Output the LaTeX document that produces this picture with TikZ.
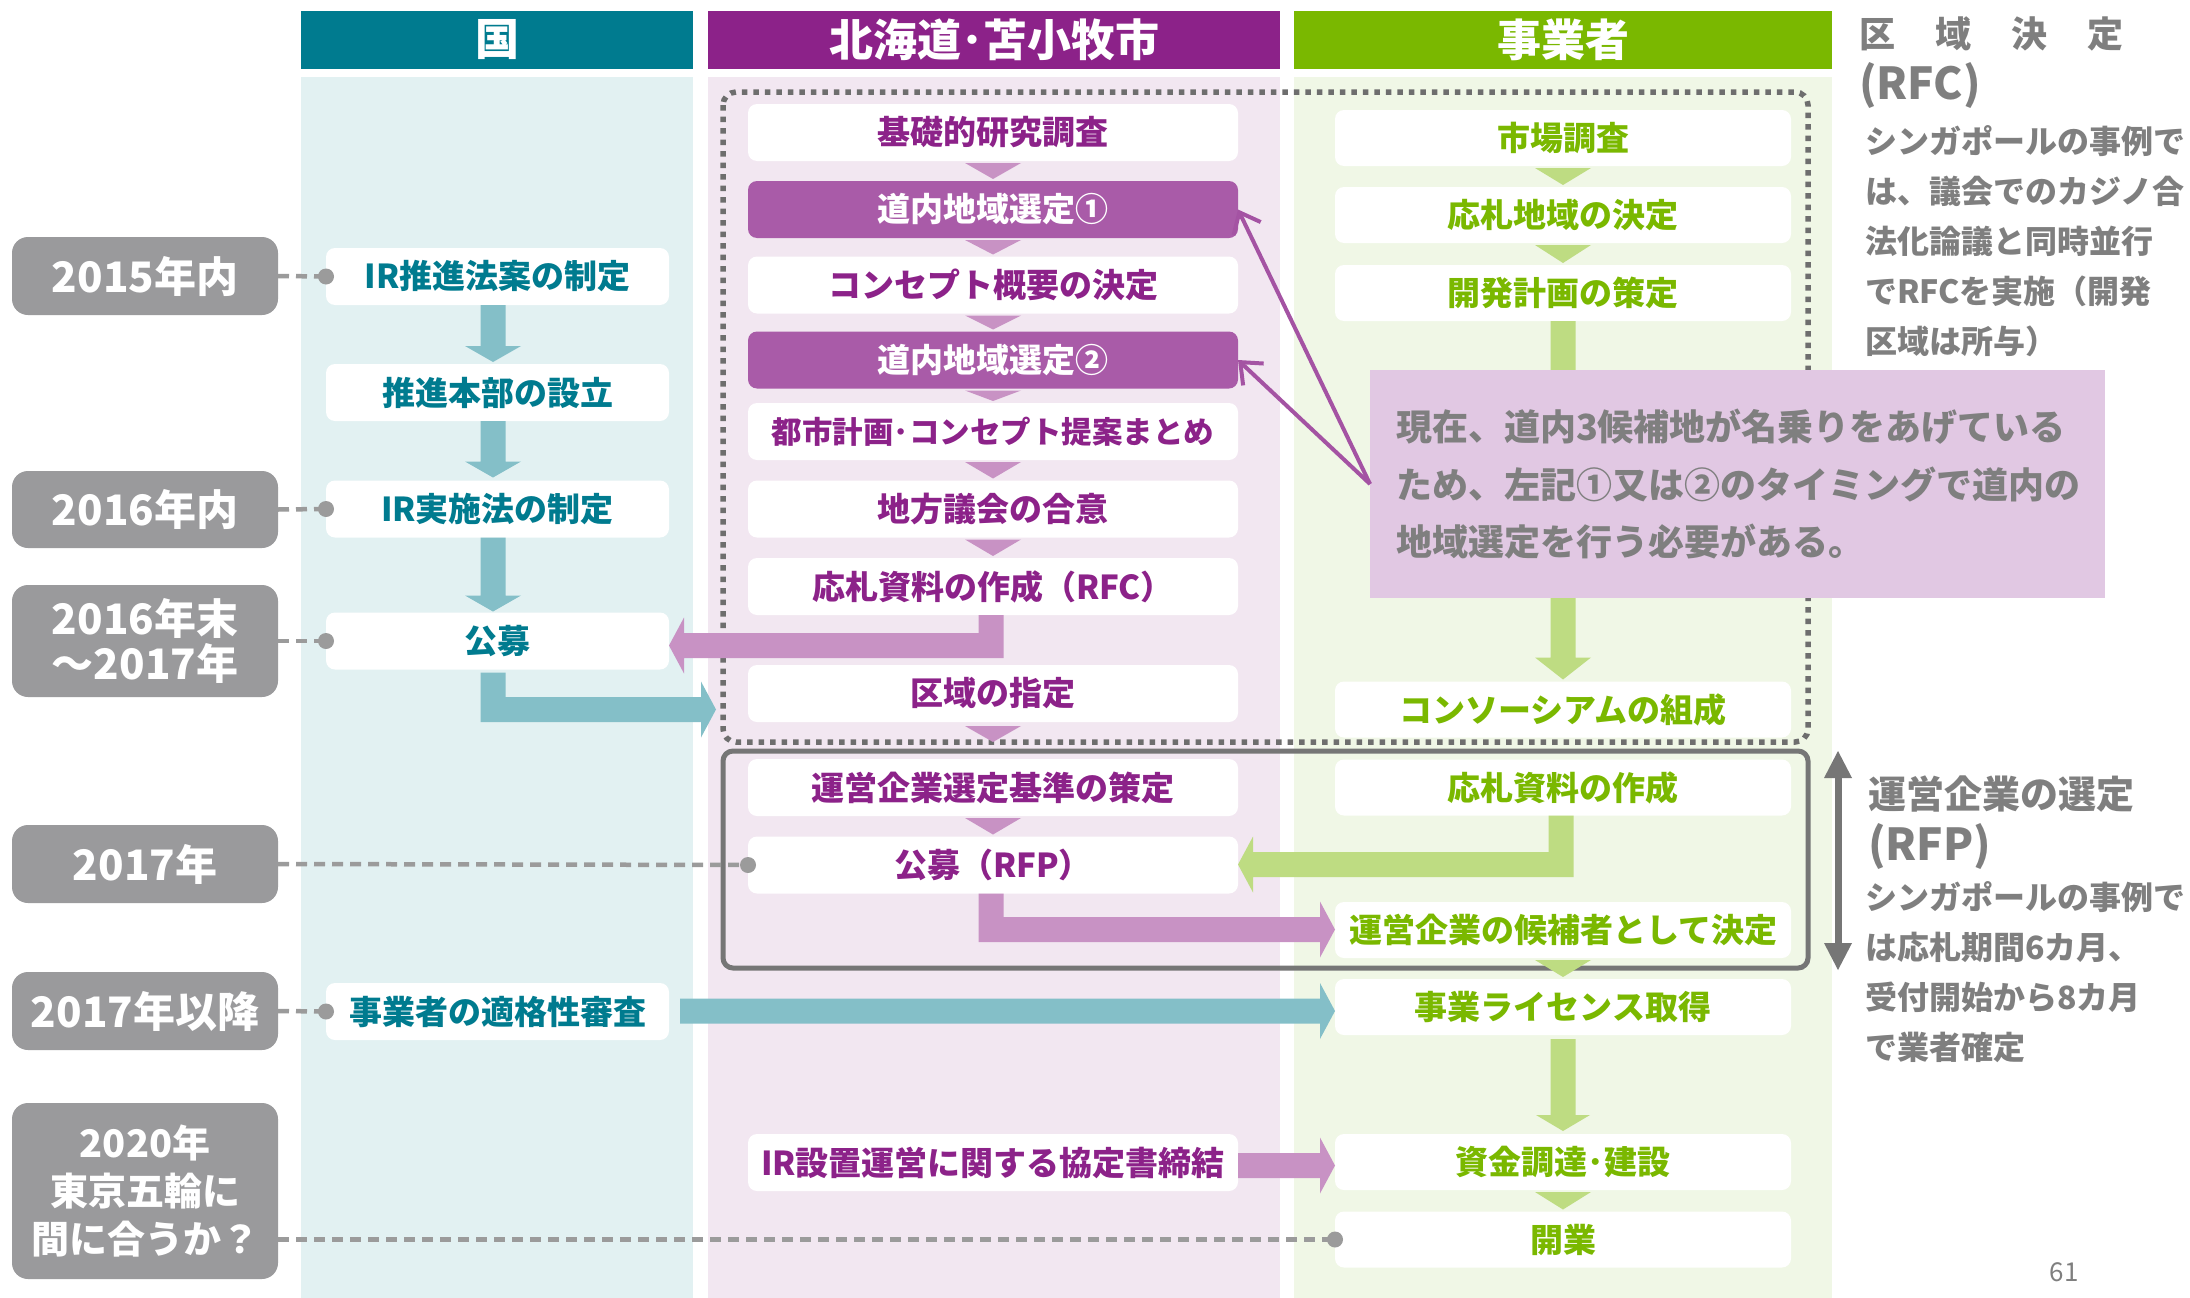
\documentclass[tikz,border=0pt]{standalone}
\usepackage{fontspec}
\setmainfont{Noto Sans CJK JP}
\usetikzlibrary{arrows.meta,calc}
\definecolor{kTeal}{RGB}{0,123,143}
\definecolor{kArrow}{RGB}{132,191,200}
\definecolor{kBg}{RGB}{226,241,242}
\definecolor{hPurple}{RGB}{140,34,137}
\definecolor{hSel}{RGB}{169,91,168}
\definecolor{hArrow}{RGB}{200,146,196}
\definecolor{hBg}{RGB}{242,231,241}
\definecolor{callBg}{RGB}{225,200,227}
\definecolor{callLine}{RGB}{164,83,163}
\definecolor{jGreen}{RGB}{122,184,0}
\definecolor{jArrow}{RGB}{190,220,130}
\definecolor{jBg}{RGB}{240,247,230}
\definecolor{yearGray}{RGB}{154,154,156}
\definecolor{txtGray}{RGB}{127,127,127}
\definecolor{frameGray}{RGB}{118,118,118}
\definecolor{dotGray}{RGB}{110,110,110}
\definecolor{dashGray}{RGB}{155,155,155}
% block arrows drawn as filled outlines
\newcommand\mychev[3]{\fill[#1] ($(#2.south)+(-28,2)$) -- ($(#2.south)+(28,2)$) -- ($(#3.north)+(0,-2)$) -- cycle;}
\newcommand\downarr[5]{\fill[#1] let \p1=(#2), \p2=(#3) in (\x2-12.5pt,\y1) -- (\x2+12.5pt,\y1) -- (\x2+12.5pt,\y2+#5) -- (\x2+#4,\y2+#5) -- (\x2,\y2) -- (\x2-#4,\y2+#5) -- (\x2-12.5pt,\y2+#5) -- cycle;}
\newcommand\rightarr[3]{\fill[#1] let \p1=(#2), \p2=(#3) in (\x1,\y2+12.5pt) -- (\x2-15pt,\y2+12.5pt) -- (\x2-15pt,\y2+28pt) -- (\x2,\y2) -- (\x2-15pt,\y2-28pt) -- (\x2-15pt,\y2-12.5pt) -- (\x1,\y2-12.5pt) -- cycle;}
\newcommand\elbowright[3]{\fill[#1] let \p1=(#2), \p2=(#3) in (\x1-12.5pt,\y1) -- (\x1+12.5pt,\y1) -- (\x1+12.5pt,\y2+12.5pt) -- (\x2-15pt,\y2+12.5pt) -- (\x2-15pt,\y2+28pt) -- (\x2,\y2) -- (\x2-15pt,\y2-28pt) -- (\x2-15pt,\y2-12.5pt) -- (\x1-12.5pt,\y2-12.5pt) -- cycle;}
\newcommand\elbowleft[3]{\fill[#1] let \p1=(#2), \p2=(#3) in (\x1+12.5pt,\y1) -- (\x1-12.5pt,\y1) -- (\x1-12.5pt,\y2+12.5pt) -- (\x2+15pt,\y2+12.5pt) -- (\x2+15pt,\y2+28pt) -- (\x2,\y2) -- (\x2+15pt,\y2-28pt) -- (\x2+15pt,\y2-12.5pt) -- (\x1+12.5pt,\y2-12.5pt) -- cycle;}
\begin{document}
\begin{tikzpicture}[x=1pt,y=-1pt,
  every node/.style={inner sep=0pt, outer sep=0pt},
  box/.style={rectangle, rounded corners=9pt, fill=white, font=\bfseries\fontsize{33}{40}\selectfont},
  kbox/.style={box, minimum width=343pt, minimum height=57pt, text=kTeal},
  hbox/.style={box, minimum width=490pt, minimum height=57pt, text=hPurple},
  hsel/.style={hbox, fill=hSel, text=white},
  jbox/.style={box, minimum width=456pt, minimum height=56pt, text=jGreen},
  ybox/.style={rectangle, rounded corners=16pt, fill=yearGray, text=white, minimum width=266pt, align=center, font=\bfseries\fontsize{42}{45}\selectfont},
  header/.style={rectangle, minimum height=58pt, text=white, font=\bfseries\fontsize{44}{50}\selectfont},
  dashline/.style={draw=dashGray, line width=4.5pt, dash pattern=on 11pt off 7pt},
  note/.style={text=txtGray, font=\bfseries\fontsize{32}{50}\selectfont, align=left, anchor=west},
  callline/.style={draw=callLine, line width=4pt, -{Straight Barb[length=18pt,width=30pt]}}
]
\useasboundingbox (0,0) rectangle (2190,1298);
\fill[white] (0,0) rectangle (2190,1298);
% column backgrounds
\fill[kBg] (301,77) rectangle (693,1298);
\fill[hBg] (708,77) rectangle (1280,1298);
\fill[jBg] (1294,77) rectangle (1832,1298);
% headers
\node[header, fill=kTeal, minimum width=392pt] (hdK) at (497,40) {国};
\node[header, fill=hPurple, minimum width=572pt] (hdH) at (994,40) {北海道･苫小牧市};
\node[header, fill=jGreen, minimum width=538pt] (hdJ) at (1563,40) {事業者};
% frames
\draw[dotGray, line width=5.5pt, dash pattern=on 5.5pt off 6pt, rounded corners=13pt] (723,92) rectangle (1808,742);
\draw[frameGray, line width=5pt, rounded corners=10pt] (723,751) rectangle (1808,968);
% year boxes
\node[ybox, minimum height=78pt] (y1) at (145,276) {2015年内};
\node[ybox, minimum height=77pt] (y2) at (145,509.5) {2016年内};
\node[ybox, minimum height=112pt] (y3) at (145,641) {2016年末\\～2017年};
\node[ybox, minimum height=78pt] (y4) at (145,864) {2017年};
\node[ybox, minimum height=78pt] (y5) at (145,1011) {2017年以降};
\node[ybox, minimum height=176pt, font=\bfseries\fontsize{38}{48}\selectfont] (y6) at (145,1191) {2020年\\東京五輪に\\間に合うか？};
% national column
\node[kbox] (k1) at (497.5,276.5) {IR推進法案の制定};
\node[kbox] (k2) at (497.5,392.5) {推進本部の設立};
\node[kbox] (k3) at (497.5,509) {IR実施法の制定};
\node[kbox] (k4) at (497.5,641) {公募};
\node[kbox] (k5) at (497.5,1011.5) {事業者の適格性審査};
% Hokkaido column
\node[hbox] (h1) at (993,132.5) {基礎的研究調査};
\node[hsel] (h2) at (993,209.5) {道内地域選定①};
\node[hbox] (h3) at (993,285) {コンセプト概要の決定};
\node[hsel] (h4) at (993,360) {道内地域選定②};
\node[hbox, font=\bfseries\fontsize{30.5}{36}\selectfont] (h5) at (993,431.5) {都市計画･コンセプト提案まとめ};
\node[hbox] (h6) at (993,509) {地方議会の合意};
\node[hbox] (h7) at (993,586.5) {応札資料の作成（RFC）};
\node[hbox] (h8) at (993,693.5) {区域の指定};
\node[hbox] (h9) at (993,787.5) {運営企業選定基準の策定};
\node[hbox] (h10) at (993,865) {公募（RFP）};
\node[hbox] (h11) at (993,1162.5) {IR設置運営に関する協定書締結};
% operator column
\node[jbox] (j1) at (1563,138) {市場調査};
\node[jbox] (j2) at (1563,215) {応札地域の決定};
\node[jbox] (j3) at (1563,293) {開発計画の策定};
\node[jbox] (j4) at (1563,709.5) {コンソーシアムの組成};
\node[jbox] (j5) at (1563,787.5) {応札資料の作成};
\node[jbox] (j6) at (1563,930) {運営企業の候補者として決定};
\node[jbox] (j7) at (1563,1007) {事業ライセンス取得};
\node[jbox] (j8) at (1563,1162) {資金調達･建設};
\node[jbox] (j9) at (1563,1239.5) {開業};
% teal arrows
\downarr{kArrow}{$(k1.south)+(-4.5,0)$}{$(k2.north)+(-4.5,-2)$}{28pt}{16pt}
\downarr{kArrow}{$(k2.south)+(-4.5,0)$}{$(k3.north)+(-4.5,-3)$}{28pt}{16pt}
\downarr{kArrow}{$(k3.south)+(-4.5,0)$}{$(k4.north)+(-4.5,-1)$}{28pt}{16pt}
\coordinate (kTip) at (716,709.5);
\elbowright{kArrow}{$(k4.south)+(-4.5,3)$}{kTip}
\rightarr{kArrow}{$(k5.east)+(11,0)$}{$(j7.west)+(0,4)$}
% purple arrows
\elbowleft{hArrow}{$(h7.south)+(-2,0)$}{$(k4.east)+(0,4.5)$}
\elbowright{hArrow}{$(h10.south)+(-2,0)$}{$(j6.west)+(0,-0.5)$}
\rightarr{hArrow}{h11.east}{$(j8.west)+(0,3.5)$}
% green arrows
\downarr{jArrow}{j3.south}{$(j4.north)+(0,-2)$}{28pt}{22pt}
\elbowleft{jArrow}{$(j5.south)+(-2,0)$}{$(h10.east)+(0,-0.5)$}
\downarr{jArrow}{$(j7.south)+(0,4)$}{$(j8.north)+(0,-3)$}{27pt}{16pt}
% chevrons
\mychev{hArrow}{h1}{h2}
\mychev{hArrow}{h2}{h3}
\mychev{hArrow}{h3}{h4}
\mychev{hArrow}{h4}{h5}
\mychev{hArrow}{h5}{h6}
\mychev{hArrow}{h6}{h7}
\mychev{hArrow}{h9}{h10}
\fill[hArrow] ($(h8.south)+(-28,4)$) -- ($(h8.south)+(28,4)$) -- ($(h8.south)+(0,20)$) -- cycle;
\mychev{jArrow}{j1}{j2}
\mychev{jArrow}{j2}{j3}
\mychev{jArrow}{j6}{j7}
\mychev{jArrow}{j8}{j9}
% callout
\node[fill=callBg, minimum width=735pt, minimum height=228pt] (callout) at (1737.5,484) {};
\node[text=txtGray, font=\bfseries\fontsize{36}{57.5}\selectfont, align=left, anchor=west] (callTxt) at (1396,484.3)
  {現在、道内3候補地が名乗りをあげている\\ため、左記①又は②のタイミングで道内の\\地域選定を行う必要がある。};
\draw[callline] (callout.west) -- (h2.east);
\draw[callline] (callout.west) -- (h4.east);
% dashed timeline connectors
\draw[dashline] (y1.east) -- (k1.west);
\draw[dashline] (y2.east) -- (k3.west);
\draw[dashline] (y3.east) -- (k4.west);
\draw[dashline] (y4.east) -- (h10.west);
\draw[dashline] (y5.east) -- (k5.west);
\draw[dashline] (y6.east |- j9.west) -- (j9.west);
\fill[dashGray] (k1.west) circle[radius=8pt];
\fill[dashGray] (k3.west) circle[radius=8pt];
\fill[dashGray] (k4.west) circle[radius=8pt];
\fill[dashGray] (h10.west) circle[radius=8pt];
\fill[dashGray] (k5.west) circle[radius=8pt];
\fill[dashGray] (j9.west) circle[radius=8pt];
% RFP double arrow
\coordinate (rfpTop) at (1838,751);
\coordinate (rfpBot) at (1838,970);
\draw[frameGray, line width=7pt] ($(rfpTop)+(0,20)$) -- ($(rfpBot)+(0,-20)$);
\fill[frameGray] (rfpTop) -- ++(14,27) -- ++(-28,0) -- cycle;
\fill[frameGray] (rfpBot) -- ++(14,-27) -- ++(-28,0) -- cycle;
% right side notes
\node[anchor=west, text=txtGray, font=\bfseries\fontsize{36}{40}\selectfont] (rfcTitle) at (1859,34) {区\hspace{40pt}域\hspace{40pt}決\hspace{40pt}定};
\node[anchor=west, text=txtGray, font=\bfseries\fontsize{44}{48}\selectfont] (rfcAbbr) at (1859,86) {(RFC)};
\node[note] (rfcNote) at (1865,241.6) {シンガポールの事例で\\は、議会でのカジノ合\\法化論議と同時並行\\でRFCを実施（開発\\区域は所与）};
\node[anchor=west, text=txtGray, font=\bfseries\fontsize{38}{40}\selectfont] (rfpTitle) at (1868,794) {運営企業の選定};
\node[anchor=west, text=txtGray, font=\bfseries\fontsize{44}{48}\selectfont] (rfpAbbr) at (1868,846) {(RFP)};
\node[note] (rfpNote) at (1865,972) {シンガポールの事例で\\は応札期間6カ月、\\受付開始から8カ月\\で業者確定};
\node[text=txtGray, font=\fontsize{26}{30}\selectfont] (pnum) at (2064,1272) {61};
\end{tikzpicture}
\end{document}
